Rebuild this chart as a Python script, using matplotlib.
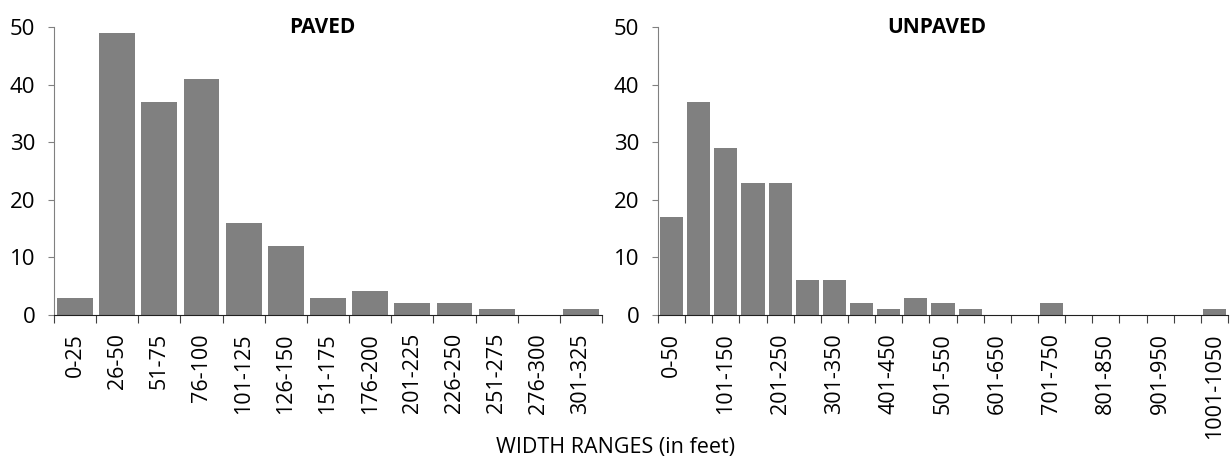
import matplotlib
matplotlib.use("Agg")
import matplotlib.pyplot as plt
import numpy as np

plt.rcParams['font.family'] = ['Open Sans', 'DejaVu Sans']

# paved road widths
paved_cats = ['0-25', '26-50', '51-75', '76-100', '101-125', '126-150', '151-175',
              '176-200', '201-225', '226-250', '251-275', '276-300', '301-325']
paved_vals = [3, 49, 37, 41, 16, 12, 3, 4.2, 2, 2, 1, 0, 1]

# unpaved road widths
unpaved_cats = ['0-50', '51-100', '101-150', '151-200', '201-250', '251-300', '301-350',
                '351-400', '401-450', '451-500', '501-550', '551-600', '601-650', '651-700',
                '701-750', '751-800', '801-850', '851-900', '901-950', '951-1000', '1001-1050']
unpaved_vals = [17, 37, 29, 23, 23, 6, 6, 2, 1, 3, 2, 1, 0, 0, 2, 0, 0, 0, 0, 0, 1]

bar_col = '#808080'
axis_col = '#808080'

W, H = 1232, 459
fig = plt.figure(figsize=(W / 100, H / 100), dpi=100)
ax1 = fig.add_axes([54 / W, 1 - 315 / H, 548 / W, 288 / H])
ax2 = fig.add_axes([658 / W, 1 - 315 / H, 570 / W, 288 / H])


def draw(ax, cats, vals, title, label_step):
    n = len(cats)
    x = np.arange(n)
    ax.bar(x, vals, width=0.85, color=bar_col, zorder=2)
    ax.set_xlim(-0.5, n - 0.5)
    ax.set_ylim(0, 50)
    ax.set_yticks([0, 10, 20, 30, 40, 50])
    ax.tick_params(axis='y', labelsize=16, length=4.5, color=axis_col, pad=9)
    # ticks at category boundaries, labels centred under the bars
    ax.set_xticks(np.arange(n + 1) - 0.5)
    ax.set_xticklabels([])
    ax.tick_params(axis='x', length=6, color='#404040')
    ax.set_xticks(x[::label_step], minor=True)
    ax.set_xticklabels(cats[::label_step], minor=True, rotation=90, fontsize=15.5)
    ax.tick_params(axis='x', which='minor', length=0, pad=13)
    for s in ['top', 'right']:
        ax.spines[s].set_visible(False)
    ax.spines['left'].set_color(axis_col)
    ax.spines['bottom'].set_color('#202020')
    ax.text(0.49, 1 + 10 / 288, title, transform=ax.transAxes, ha='center', va='top',
            fontsize=15, fontweight='bold')


draw(ax1, paved_cats, paved_vals, 'PAVED', 1)
draw(ax2, unpaved_cats, unpaved_vals, 'UNPAVED', 2)

fig.text(616 / W, 1 - 448 / H, 'WIDTH RANGES (in feet)', ha='center', va='center', fontsize=15.5)

fig.savefig('out.png', dpi=100)
